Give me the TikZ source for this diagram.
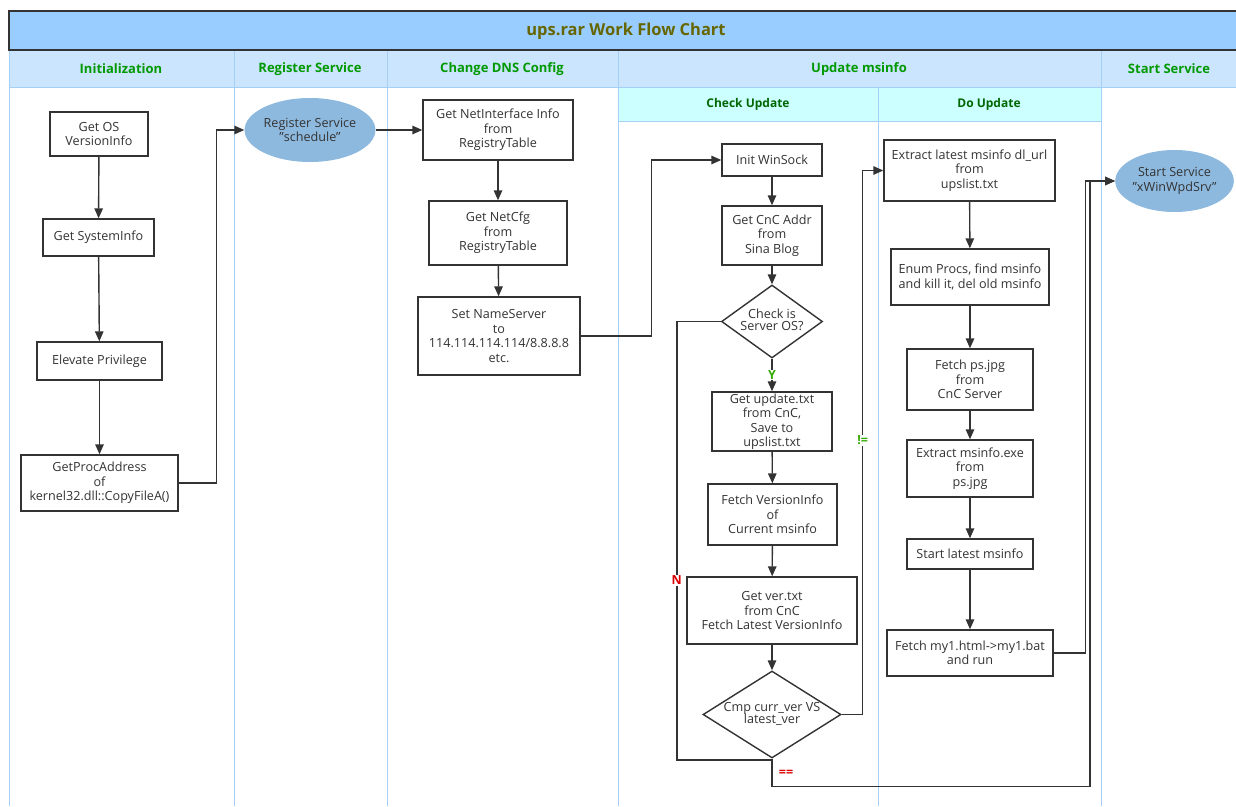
\documentclass[tikz,border=0pt]{standalone}
\usepackage{fontspec}
\setmainfont{Open Sans}
\usetikzlibrary{shapes.geometric,arrows.meta}
\definecolor{linec}{HTML}{333333}
\definecolor{lanec}{HTML}{A6CFF5}
\definecolor{titlefill}{HTML}{99CCFF}
\definecolor{headfill}{HTML}{CCE5FF}
\definecolor{subfill}{HTML}{CCFFFF}
\definecolor{ellfill}{HTML}{8EB9DF}
\definecolor{titletext}{HTML}{666600}
\definecolor{headtext}{HTML}{009900}
\definecolor{subtext}{HTML}{006600}
\definecolor{ylab}{HTML}{33AA00}
\definecolor{nred}{HTML}{DD0000}
\newcommand\bxfont{\fontsize{12.6}{14.5}\selectfont}
\newcommand\hdfont{\fontsize{13}{15}\selectfont\bfseries}
\newcommand\sbfont{\fontsize{12}{14}\selectfont\bfseries}
\newcommand\lbfont{\fontsize{12.5}{13}\selectfont\bfseries}
\begin{document}
\begin{tikzpicture}[x=1pt,y=-1pt,
  box/.style={draw=linec, line width=1.4pt, fill=white, align=center, inner sep=0pt, font=\bxfont, text=linec, rectangle},
  dia/.style={draw=linec, line width=1.4pt, fill=white, diamond, inner sep=0pt, font=\bxfont, text=linec},
  ell/.style={ellipse, fill=ellfill, align=center, inner sep=0pt, font=\bxfont, text=linec},
  arr/.style={draw=linec, line width=1.4pt, -{Triangle[length=10pt,width=8.5pt]}},
  ln/.style={draw=linec, line width=1.4pt},
  lane/.style={draw=lanec, line width=1pt},
  hd/.style={font=\hdfont, text=headtext},
  sb/.style={font=\sbfont, text=subtext},
  lab/.style={font=\lbfont, fill=white, inner sep=1pt}
]
\useasboundingbox (0,0) rectangle (1236,806);
% backgrounds
\fill[headfill] (9,50) rectangle (1240,87);
\fill[subfill] (618,87) rectangle (1101,121);
\fill[titlefill] (9,11) rectangle (1240,50);
% lanes
\draw[lane] (9,50) -- (9,806);
\draw[lane] (234,50) -- (234,806);
\draw[lane] (387,50) -- (387,806);
\draw[lane] (618,50) -- (618,806);
\draw[lane] (1101,50) -- (1101,806);
\draw[lane] (878,87) -- (878,806);
\draw[lane] (9,87) -- (1240,87);
\draw[lane] (618,121) -- (1101,121);
\draw[linec, line width=1.3pt] (1240,11) -- (9,11) -- (9,50) -- (1240,50);
% title and headers
\node[font=\fontsize{16.5}{18}\selectfont\bfseries, text=titletext] (title) at (626,31) {ups.rar Work Flow Chart};
\node[hd] (h1) at (121,69) {Initialization};
\node[hd] (h2) at (310,69) {Register Service};
\node[hd] (h3) at (502,69) {Change DNS Config};
\node[hd] (h4) at (859,69) {Update msinfo};
\node[hd] (h5) at (1169,69) {Start Service};
\node[sb] (s1) at (748,104) {Check Update};
\node[sb] (s2) at (989,104) {Do Update};
% nodes
\node[box, minimum width=98, minimum height=44] (os) at (99,134) {Get OS\\VersionInfo};
\node[box, minimum width=111, minimum height=37] (sys) at (98.5,237.5) {Get SystemInfo};
\node[box, minimum width=125, minimum height=38] (elev) at (99.5,361) {Elevate Privilege};
\node[box, minimum width=157, minimum height=56] (gpa) at (99.5,483) {GetProcAddress\\of\\kernel32.dll::CopyFileA()};
\node[ell, minimum width=112, minimum height=64] (reg) at (310,130) {Register Service\\"schedule"};
\node[box, minimum width=150, minimum height=60] (ni) at (498,130) {Get NetInterface Info\\from\\RegistryTable};
\node[box, minimum width=138, minimum height=64] (nc) at (498,233) {Get NetCfg\\from\\RegistryTable};
\node[box, minimum width=162, minimum height=78] (ns) at (499,336) {Set NameServer\\to\\114.114.114.114/8.8.8.8\\etc.};
\node[box, minimum width=100, minimum height=32] (iw) at (772,160) {Init WinSock};
\node[box, minimum width=100, minimum height=59] (cnc) at (772,235.5) {Get CnC Addr\\from\\Sina Blog};
\node[dia, minimum width=101, minimum height=73] (chk) at (772,321.5) {\makebox[0pt]{\begin{tabular}{@{}c@{}}Check is\\[-2pt]Server OS?\end{tabular}}};
\node[box, minimum width=120, minimum height=59] (upd) at (772,421.5) {Get update.txt\\from CnC,\\Save to\\upslist.txt};
\node[box, minimum width=129, minimum height=61] (fv) at (772.5,514.5) {Fetch VersionInfo\\of\\Current msinfo};
\node[box, minimum width=170, minimum height=67] (gv) at (772,610.5) {Get ver.txt\\from CnC\\Fetch Latest VersionInfo};
\node[dia, minimum width=138, minimum height=87] (cmp) at (772,714.5) {\makebox[0pt]{\begin{tabular}{@{}c@{}}Cmp curr\_ver VS\\[-2pt]latest\_ver\end{tabular}}};
\node[box, minimum width=171, minimum height=61] (ext) at (969.5,170.5) {Extract latest msinfo dl\_url\\from\\upslist.txt};
\node[box, minimum width=158, minimum height=56] (enum) at (970,277) {Enum Procs, find msinfo\\and kill it, del old msinfo};
\node[box, minimum width=126, minimum height=61] (fps) at (970,379.5) {Fetch ps.jpg\\from\\CnC Server};
\node[box, minimum width=126, minimum height=57] (exe) at (970,468.5) {Extract msinfo.exe\\from\\ps.jpg};
\node[box, minimum width=126, minimum height=30] (slm) at (970,554) {Start latest msinfo};
\node[box, minimum width=166, minimum height=46] (my1) at (970,653) {Fetch my1.html->my1.bat\\and run};
\node[ell, minimum width=111, minimum height=62] (ss) at (1174.5,181) {Start Service\\"xWinWpdSrv"};
% connectors
\draw[arr] (os) -- (sys);
\draw[arr] (sys) -- (elev);
\draw[arr] (elev) -- (gpa);
\draw[arr] (gpa.east) -- ++(38,0) |- (reg.west);
\draw[arr] (reg.east) -- (ni.west);
\draw[arr] (ni) -- (nc);
\draw[arr] (nc) -- (ns);
\draw[arr] (ns.east) -- ++(71,0) |- (iw.west);
\draw[arr] (iw) -- (cnc);
\draw[arr] (cnc) -- (chk.north);
\draw[arr] (chk.south) -- node[lab, text=ylab, pos=0.5] {Y} (upd.north);
\draw[arr] (upd) -- (fv);
\draw[arr] (fv) -- (gv);
\draw[arr] (gv) -- (cmp.north);
\draw[ln] (chk.west) -- ++(-44,0) -- node[lab, text=nred, pos=0.59] {N} ++(0,438.5) -| (cmp.south);
\draw[arr] (cmp.east) -- ++(21,0) -- node[lab, text=ylab, pos=0.504] {!=} ++(0,-544) -- (ext.west);
\draw[arr] (cmp.south) -- ++(0,28) -- ++(318,0) |- (ss.west);
\draw[arr] (my1.east) -- ++(32,0) |- (ss.west);
\node[font=\lbfont, text=nred] (eq) at (786,773) {==};
\draw[arr] (ext) -- (enum);
\draw[arr] (enum) -- (fps);
\draw[arr] (fps) -- (exe);
\draw[arr] (exe) -- (slm);
\draw[arr] (slm) -- (my1);
\end{tikzpicture}
\end{document}
